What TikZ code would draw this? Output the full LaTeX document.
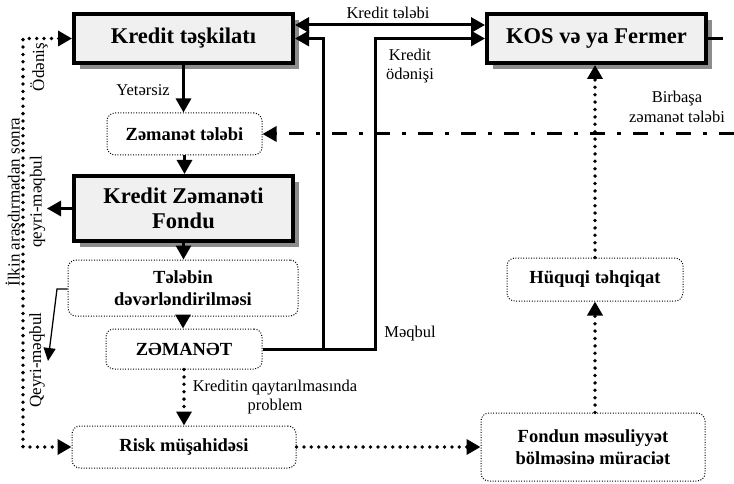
\documentclass[tikz,border=0pt]{standalone}
\usepackage{fontspec}
\setmainfont{Liberation Serif}
\usetikzlibrary{arrows.meta,shadows,calc}
\newcommand\fntbig{\bfseries\fontsize{22.5}{25}\selectfont}
\newcommand\fntsmall{\bfseries\fontsize{18.5}{22}\selectfont}
\newcommand\fntlab{\fontsize{16.5}{19.5}\selectfont}
\newcommand\fntrot{\fontsize{17}{22}\selectfont}
\begin{document}
\begin{tikzpicture}[x=1pt,y=-1pt,
  bigbox/.style={draw, line width=4pt, fill=black!6, inner sep=0pt, align=center,
     minimum width=219pt, font=\fntbig,
     drop shadow={shadow xshift=6pt, shadow yshift=-6pt, fill=black!45, opacity=1}},
  dotbox/.style={draw, line width=1pt, dash pattern=on 1pt off 1.6pt, rounded corners=8pt,
     inner sep=0pt, align=center, font=\fntsmall},
  lab/.style={inner sep=0pt, font=\fntlab},
  rlab/.style={inner sep=0pt, font=\fntrot, rotate=90},
  heavy/.style={line width=3pt},
  dotline/.style={line width=3.8pt, dash pattern=on 0pt off 7.4pt, line cap=round},
  dashdotline/.style={line width=3pt, dash pattern=on 15pt off 12pt on 4pt off 12pt},
  tip/.style={-{Triangle[length=14pt,width=15pt]}},
  tips/.style={{Triangle[length=14pt,width=15pt]}-{Triangle[length=14pt,width=15pt]}},
  thintip/.style={-{Triangle[length=13pt,width=12pt]}}
]
\useasboundingbox (0,0) rectangle (734,484);

% main boxes
\node[bigbox, minimum height=49pt] (KT) at (183.5,38.5) {Kredit təşkilatı};
\node[bigbox, minimum height=49pt] (KOS) at (596.5,38.5) {KOS və ya Fermer};
\node[bigbox, minimum height=65pt] (KZF) at (183.5,208.5) {Kredit Zəmanəti\\Fondu};

% dotted boxes
\node[dotbox, minimum width=155pt, minimum height=42pt] (ZT) at (184.5,134) {Zəmanət tələbi};
\node[dotbox, minimum width=230pt, minimum height=56pt] (TD) at (183,288) {Tələbin\\dəvərləndirilməsi};
\node[dotbox, minimum width=156pt, minimum height=40pt] (ZM) at (184,349) {ZƏMANƏT};
\node[dotbox, minimum width=224pt, minimum height=42pt] (RM) at (184,447) {Risk müşahidəsi};
\node[dotbox, minimum width=176pt, minimum height=43pt] (HT) at (595,279.5) {Hüquqi təhqiqat};
\node[dotbox, minimum width=224pt, minimum height=68pt] (FM) at (593,447) {Fondun məsuliyyət\\bölməsinə müraciət};

% helper coordinates
\coordinate (lx) at (23,0);
\coordinate (jx) at (323,0);
\coordinate (rx) at (375,0);
\coordinate (kzfout) at (47,208.5);
\coordinate (tdbend) at (57,289);
\coordinate (tdend) at (48,361);
\coordinate (ddstart) at (734,134);
\coordinate (kosout) at (723,38.5);

% vertical flow
\draw[heavy,tip] (KT.south) -- (KT.south |- ZT.north);
\draw[heavy,tip] (ZT.south) -- (ZT.south |- KZF.north);
\draw[heavy,tip] (KZF.south) -- (KZF.south |- TD.north);
\draw[heavy,tip] (TD.south) -- (TD.south |- ZM.north);
\draw[dotline,tip] (ZM.south) -- (ZM.south |- RM.north);

% left side
\draw[heavy,tip] (KZF.west) -- (kzfout);
\draw[line width=1.3pt,thintip] (TD.west |- tdbend) -- (tdbend) -- (tdend);
\draw[dotline,tips] (KT.west) -- (KT.west -| lx) -- (RM.west -| lx) -- (RM.west);

% top connections
\draw[heavy,tips] ([yshift=13.5pt]KT.east) -- ([yshift=13.5pt]KOS.west);
\draw[heavy,tip] (ZM.east) -- (ZM.east -| rx) -- (KOS.west -| rx) -- (KOS.west);
\draw[heavy,tip] (ZM.east -| jx) -- (KT.east -| jx) -- (KT.east);
\draw[heavy] (KOS.east) -- (kosout);

% right side
\draw[dotline,tip] (RM.east) -- (FM.west);
\draw[dotline,tip] (HT.south |- FM.north) -- (HT.south);
\draw[dotline,tip] (HT.north) -- (HT.north |- KOS.south);
\draw[dashdotline,tip] (ddstart) -- (ZT.east);

% labels
\node[lab] (lyet) at (143,90) {Yetərsiz};
\node[lab] (lkt) at (388,13) {Kredit tələbi};
\node[lab, align=center] (lko) at (410,66) {Kredit\\ödənişi};
\node[lab] (lmq) at (410,334) {Məqbul};
\node[lab, align=center] (lbz) at (677,107) {Birbaşa\\zəmanət tələbi};
\node[lab, align=center] (lkq) at (275,397) {Kreditin qaytarılmasında\\problem};
\node[rlab] (lod) at (39,67) {Ödəniş};
\node[rlab, align=center] (lil) at (25.5,202) {İlkin araşdırmadan sonra\\qeyri-məqbul};
\node[rlab] (lqm) at (37,360) {Qeyri-məqbul};
\end{tikzpicture}
\end{document}
